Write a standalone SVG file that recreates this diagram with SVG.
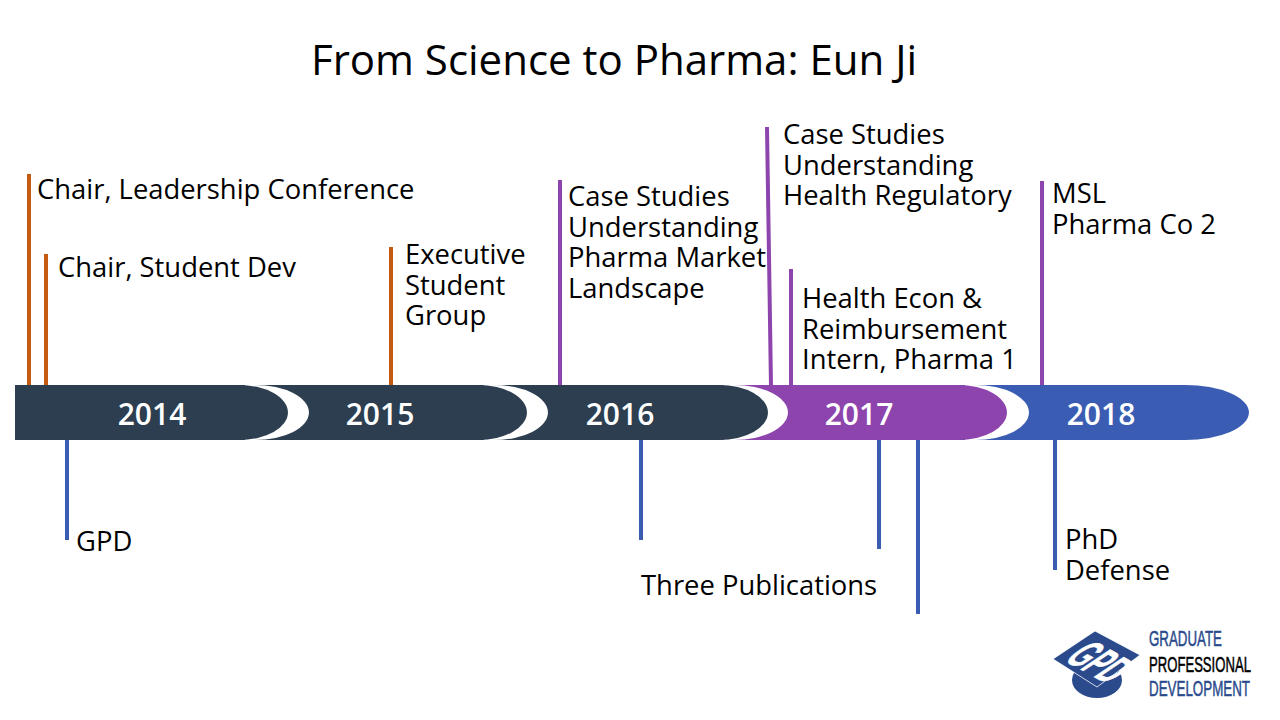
<svg xmlns="http://www.w3.org/2000/svg" width="1280" height="720" viewBox="0 0 1280 720">
<style>
text{font-family:"Open Sans","Noto Sans",sans-serif;fill:#000}
.t{font-size:27.4px}
.y{font-size:30px;font-weight:600;fill:#fff;text-anchor:middle}
.o{stroke:#c55a11;stroke-width:4;fill:none}
.p{stroke:#8e44ad;stroke-width:4;fill:none}
.b{stroke:#3a5db3;stroke-width:4;fill:none}
.l{font-family:"Liberation Sans",sans-serif;font-size:22px;stroke-width:.5px}
</style>
<rect width="1280" height="720" fill="#fff"/>
<text id="title" x="614" y="75" font-size="42" text-anchor="middle">From Science to Pharma: Eun Ji</text>
<g id="connectors">
<path class="o" d="M29 174V386M46 254V386M391 247V386"/>
<path class="p" d="M560 180V386M767 127L771 386M791 269V386M1042 181V386"/>
<path class="b" d="M67 440V540M641 440V540M879 440V549M918 440V614M1055 440V570"/>
</g>
<g id="band">
<path id="seg2018" fill="#3a5db3" d="M950 385H1185A64 27.5 0 0 1 1185 440H950Z"/>
<path fill="#fff" d="M965 385H975A54 27.5 0 0 1 975 440H965Z"/>
<path id="seg2017" fill="#8e44ad" d="M700 385H958A49 27.5 0 0 1 958 440H700Z"/>
<path fill="#fff" d="M724 385H734A54 27.5 0 0 1 734 440H724Z"/>
<path id="seg2016" fill="#2c3e50" d="M460 385H719A49 27.5 0 0 1 719 440H460Z"/>
<path fill="#fff" d="M484 385H494A54 27.5 0 0 1 494 440H484Z"/>
<path id="seg2015" fill="#2c3e50" d="M220 385H478A49 27.5 0 0 1 478 440H220Z"/>
<path fill="#fff" d="M245 385H255A54 27.5 0 0 1 255 440H245Z"/>
<path id="seg2014" fill="#2c3e50" d="M15 385H239A49 27.5 0 0 1 239 440H15Z"/>
</g>
<text class="y" x="152" y="425">2014</text>
<text class="y" x="380" y="425">2015</text>
<text class="y" x="620" y="425">2016</text>
<text class="y" x="859" y="425">2017</text>
<text class="y" x="1101" y="425">2018</text>
<g id="n1"><text class="t" x="37" y="199">Chair, Leadership Conference</text></g>
<g id="n2"><text class="t" x="58" y="277">Chair, Student Dev</text></g>
<g id="n3"><text class="t"><tspan x="405" y="264">Executive</tspan><tspan x="405" y="295">Student</tspan><tspan x="405" y="325">Group</tspan></text></g>
<g id="n4"><text class="t"><tspan x="568" y="206">Case Studies</tspan><tspan x="568" y="237">Understanding</tspan><tspan x="568" y="267">Pharma Market</tspan><tspan x="568" y="298">Landscape</tspan></text></g>
<g id="n5"><text class="t"><tspan x="783" y="144">Case Studies</tspan><tspan x="783" y="175">Understanding</tspan><tspan x="783" y="205">Health Regulatory</tspan></text></g>
<g id="n6"><text class="t"><tspan x="802" y="308">Health Econ &amp;</tspan><tspan x="802" y="339">Reimbursement</tspan><tspan x="802" y="369">Intern, Pharma 1</tspan></text></g>
<g id="n7"><text class="t"><tspan x="1052" y="203">MSL</tspan><tspan x="1052" y="234">Pharma Co 2</tspan></text></g>
<g id="n8"><text class="t" x="76" y="551">GPD</text></g>
<g id="n9"><text class="t" x="641" y="595">Three Publications</text></g>
<g id="n10"><text class="t"><tspan x="1065" y="549">PhD</tspan><tspan x="1065" y="580">Defense</tspan></text></g>
<g id="logo">
<ellipse cx="1097" cy="680" rx="25" ry="18" fill="#2a4a8c"/>
<path d="M1053 659L1095 631L1140 655L1097 687Z" fill="#2a4a8c" stroke="#fff" stroke-width=".8"/>
<text transform="matrix(2.05 1.12 -4.3 2.9 1063 660)" font-size="10" font-weight="700" stroke="#fff" stroke-width=".12" style="fill:#fff;font-family:'Liberation Sans',sans-serif">GPD</text>
<text class="l" transform="translate(1149 646) scale(.605 1)" style="fill:#2a4a8c;stroke:#2a4a8c">GRADUATE</text>
<text class="l" transform="translate(1149 672) scale(.596 1)" style="stroke:#000">PROFESSIONAL</text>
<text class="l" transform="translate(1149 696) scale(.608 1)" style="fill:#2a4a8c;stroke:#2a4a8c">DEVELOPMENT</text>
</g>
</svg>
